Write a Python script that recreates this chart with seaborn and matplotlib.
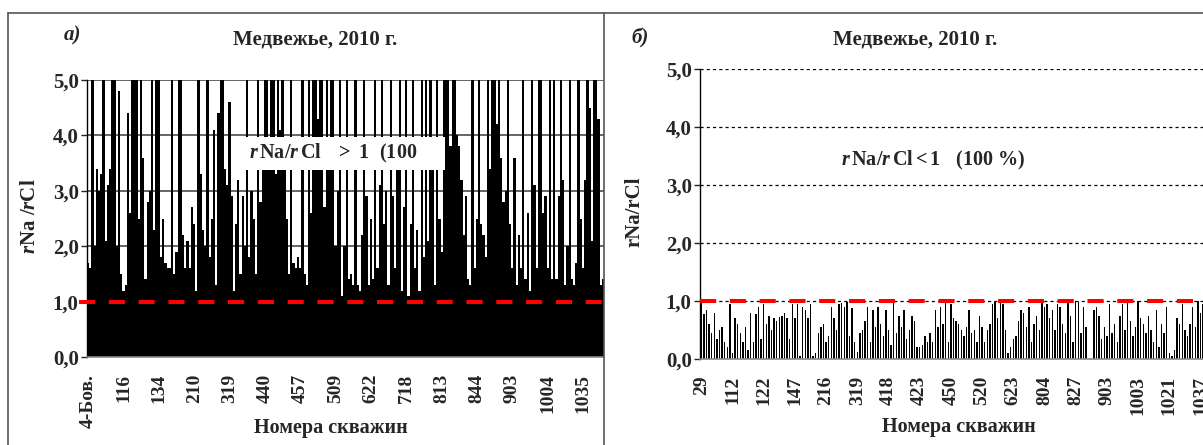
import numpy as np
import matplotlib
matplotlib.use('Agg')
import matplotlib.pyplot as plt
import seaborn as sns
from matplotlib.lines import Line2D
from matplotlib.patches import Rectangle

# --- data ----------------------------------------------------------------
# а) wells with rNa/rCl > 1 (values above 5 are cut by the axis)
left_ticks = ['4-Бов.', '116', '134', '210', '319', '440', '457', '509',
              '622', '718', '813', '844', '903', '1004', '1035']
left_vals = [
    1.7, 1.6, 9, 2.0, 3.4, 3.0, 3.3, 9, 2.1, 3.1,
    3.4, 8, 9, 2.0, 4.8, 1.5, 1.2, 1.3, 4.4, 2.6,
    9, 9, 9, 2.5, 9, 3.6, 1.4, 2.8, 3.0, 9,
    2.3, 9, 9, 1.8, 2.5, 1.7, 1.6, 1.6, 9, 1.5,
    1.9, 9, 9, 2.2, 1.6, 2.1, 1.6, 2.7, 2.4, 1.2,
    9, 3.3, 2.3, 2.0, 9, 1.8, 2.5, 4.1, 1.3, 4.4,
    9, 9, 3.4, 3.1, 4.6, 2.9, 1.2, 2.4, 3.2, 1.5,
    2.9, 2.0, 5.5, 1.8, 3.0, 2.5, 1.5, 9, 2.8, 3.9,
    9, 9, 3.5, 9, 9, 3.3, 9, 4.1, 9, 3.8,
    2.5, 1.5, 9, 1.7, 1.6, 1.8, 1.6, 9, 1.5, 1.3,
    9, 2.6, 9, 9, 4.3, 9, 9, 2.7, 9, 3.5,
    9, 9, 2.0, 3.0, 9, 1.1, 2.0, 9, 1.4, 1.5,
    1.3, 9, 1.3, 1.2, 2.2, 9, 2.9, 1.3, 2.5, 1.4,
    9, 1.6, 3.1, 9, 2.4, 3.0, 1.3, 9, 2.9, 1.6,
    3.4, 9, 1.2, 2.7, 9, 1.1, 2.4, 9, 1.6, 2.3,
    1.2, 9, 1.8, 9, 2.1, 9, 3.4, 1.3, 9, 2.5,
    1.9, 9, 9, 9, 3.8, 9, 9, 4.0, 3.8, 3.2,
    2.2, 2.9, 1.4, 1.3, 9, 1.6, 2.5, 9, 2.4, 2.2,
    1.8, 9, 3.4, 9, 9, 4.2, 9, 3.6, 2.8, 3.0,
    9, 2.4, 1.6, 3.6, 1.3, 2.2, 1.6, 9, 1.4, 2.6,
    1.2, 9, 3.1, 1.6, 9, 9, 2.6, 2.9, 1.6, 9,
    1.4, 9, 1.4, 2.9, 9, 3.2, 1.3, 2.0, 9, 1.4,
    1.3, 1.7, 9, 2.5, 1.6, 3.2, 9, 4.5, 2.1, 9,
    9, 4.3, 1.3, 1.4,
]

# б) wells with rNa/rCl < 1
right_ticks = ['29', '112', '122', '147', '216', '319', '418', '423', '450',
               '520', '623', '804', '827', '903', '1003', '1021', '1037']
right_vals = [
    1.0, 0.78, 0.85, 0.6, 0.45, 0.8, 0.35, 0.5, 0.55, 0.3, 0.2, 0.95,
    0.1, 0.7, 0.6, 0.45, 0.3, 0.55, 0.15, 0.8, 0.3, 0.78, 0.9, 0.35,
    0.95, 0.6, 0.75, 0.5, 0.7, 0.65, 0.72, 0.75, 0.8, 0.7, 0.35, 0.95,
    0.7, 0.95, 0.05, 0.9, 0.85, 0.7, 0.95, 0.05, 0.1, 0.45, 0.55, 0.6,
    0.3, 0.4, 0.9, 0.7, 0.5, 0.95, 0.97, 0.9, 0.98, 0.4, 0.88, 0.3,
    0.12, 0.45, 0.5, 0.65, 0.9, 0.3, 0.85, 0.55, 0.9, 0.6, 0.4, 0.85,
    0.5, 0.25, 1.0, 0.45, 0.75, 0.55, 0.85, 0.35, 0.5, 0.75, 0.65, 0.2,
    0.2, 0.25, 0.4, 0.3, 0.45, 0.3, 0.85, 0.55, 0.9, 0.6, 1.0, 0.3,
    0.95, 0.7, 0.65, 0.6, 0.5, 0.4, 0.55, 0.85, 0.45, 0.5, 0.3, 0.75,
    0.55, 0.3, 0.5, 0.6, 0.95, 0.98, 0.7, 0.98, 0.95, 0.5, 0.1, 0.2,
    0.35, 0.4, 0.65, 0.85, 0.8, 0.55, 0.9, 0.3, 0.6, 0.75, 0.5, 1.0,
    0.9, 0.95, 0.7, 0.85, 0.5, 0.95, 0.9, 0.6, 0.45, 0.98, 0.75, 0.3,
    1.0, 0.98, 0.45, 0.9, 0.55, 0.0, 0.0, 0.85, 0.9, 0.75, 0.35, 0.55,
    0.4, 0.95, 0.45, 0.6, 0.3, 0.75, 0.95, 0.5, 0.98, 0.65, 0.4, 0.55,
    1.0, 0.7, 0.6, 0.45, 0.75, 0.5, 0.3, 0.85, 0.2, 0.6, 0.45, 0.9,
    0.1, 0.05, 0.15, 0.7, 0.6, 0.95, 0.5, 0.4, 0.6, 0.9, 0.55, 1.0,
    0.8, 0.95, 0.7, 0.6, 0.85, 0.5, 0.65, 0.75,
]

threshold = 1.0
title = 'Медвежье, 2010 г.'
xlabel = 'Номера скважин'

# --- style ----------------------------------------------------------------
sns.set_style('white')
plt.rcParams['font.family'] = ['Liberation Serif', 'DejaVu Serif']
plt.rcParams['font.weight'] = 'bold'
plt.rcParams['mathtext.fontset'] = 'custom'
plt.rcParams['mathtext.rm'] = 'Liberation Serif:bold'
plt.rcParams['mathtext.bf'] = 'Liberation Serif:bold'
plt.rcParams['mathtext.it'] = 'Liberation Serif:italic:bold'
plt.rcParams['mathtext.bfit'] = 'Liberation Serif:italic:bold'

W, H = 1203, 445
fig = plt.figure(figsize=(W / 100, H / 100), dpi=100)


def px(x, y):
    return x / W, 1 - y / H


def axes_box(x0, x1, ytop, ybot):
    return [x0 / W, 1 - ybot / H, (x1 - x0) / W, (ybot - ytop) / H]


def style_axes(ax, ticks, step, n, grid_kw):
    ax.set_xlim(-0.5, n - 0.5)
    ax.set_ylim(0, 5)
    ax.set_yticks(range(6))
    ax.set_yticklabels([f'{v},0' for v in range(6)], fontsize=15, fontweight='bold')
    ax.set_xticks(range(0, n, step)[:len(ticks)])
    ax.set_xticklabels(ticks, rotation=90, fontsize=14, fontweight='bold')
    ax.tick_params(axis='x', length=0, pad=12)
    ax.tick_params(axis='y', length=4, width=1, pad=2, direction='out', left=True)
    ax.set_xlabel('')
    ax.set_ylabel('')
    ax.yaxis.grid(True, **grid_kw)
    ax.set_axisbelow(True)
    for s in ['top', 'right']:
        ax.spines[s].set_visible(False)
    ax.spines['left'].set_color('black')
    ax.spines['left'].set_linewidth(1.0)
    ax.spines['bottom'].set_color('#888888')
    ax.spines['bottom'].set_linewidth(1.2)


# --- left panel -------------------------------------------------------------
ax1 = fig.add_axes(axes_box(87, 604, 80, 357))
nl = len(left_vals)
sns.barplot(x=np.arange(nl), y=left_vals, color='black', width=1.0,
            saturation=1, linewidth=0, errorbar=None, ax=ax1)
style_axes(ax1, left_ticks, 16, nl,
           dict(color='#3a3a3a', linewidth=1.1, linestyle='-'))
ax1.plot([-4.0, nl - 0.5 + 3.8], [threshold, threshold], color='#ff0000',
         lw=2.9, dashes=(4.0, 3.4), clip_on=False, zorder=5)
# white label box: axes-x / data-y coordinates
ax1.add_patch(Rectangle((0.282, 3.38), 0.41, 0.59, transform=ax1.get_yaxis_transform(),
                        facecolor='white', edgecolor='none', zorder=4))
ax1.text(0.313, 3.68, r'$\mathbfit{r}\,\mathrm{Na/}\mathbfit{r}\,\mathrm{Cl\ \ \ >\ 1\ \ (100}$',
         transform=ax1.get_yaxis_transform(), fontsize=14.5, va='center', ha='left', zorder=6)

# --- right panel ------------------------------------------------------------
ax2 = fig.add_axes(axes_box(700, 1220, 69, 359))
nr = len(right_vals)
sns.barplot(x=np.arange(nr), y=right_vals, color='black', width=0.55,
            saturation=1, linewidth=0, errorbar=None, ax=ax2)
style_axes(ax2, right_ticks, 12, nr,
           dict(color='black', linewidth=0.9, linestyle=(0, (2.5, 2.5))))
ax2.plot([-0.5, nr - 0.5], [threshold, threshold], color='#ff0000',
         lw=2.9, dashes=(4.0, 3.4), zorder=5)
ax2.text(0.271, 3.43, r'$\mathbfit{r}\,\mathrm{Na/}\mathbfit{r}\,\mathrm{Cl}<\mathrm{1\ \ \ (100\ \%)}$',
         transform=ax2.get_yaxis_transform(), fontsize=14.5, va='center', ha='left', zorder=6)

# --- titles, labels, panel letters -----------------------------------------
fig.text(*px(315, 40), title, fontsize=15, fontweight='bold', ha='center', va='center')
fig.text(*px(915, 40), title, fontsize=15, fontweight='bold', ha='center', va='center')
fig.text(*px(73, 35), 'а)', fontsize=15, fontweight='bold', style='italic', ha='center', va='center')
fig.text(*px(640, 38), 'б)', fontsize=15, fontweight='bold', style='italic', ha='center', va='center')
fig.text(*px(331, 428), xlabel, fontsize=14.5, fontweight='bold', ha='center', va='center')
fig.text(*px(959, 427), xlabel, fontsize=14.5, fontweight='bold', ha='center', va='center')
fig.text(*px(30, 216), r'$\mathbfit{r}\mathrm{Na\ /}\mathbfit{r}\mathrm{Cl}$', fontsize=15,
         rotation=90, ha='center', va='center')
fig.text(*px(635, 212), 'rNa/rCl', fontsize=15, fontweight='bold', rotation=90,
         ha='center', va='center')

# chart-area borders
border = dict(color='#555555', linewidth=1.2)
fig.add_artist(Line2D([8 / W, 1], [1 - 13 / H, 1 - 13 / H], **border))
fig.add_artist(Line2D([8 / W, 8 / W], [0, 1 - 13 / H], **border))
fig.add_artist(Line2D([604 / W, 604 / W], [0, 1 - 13 / H], **border))

fig.savefig('out.png', dpi=100)
